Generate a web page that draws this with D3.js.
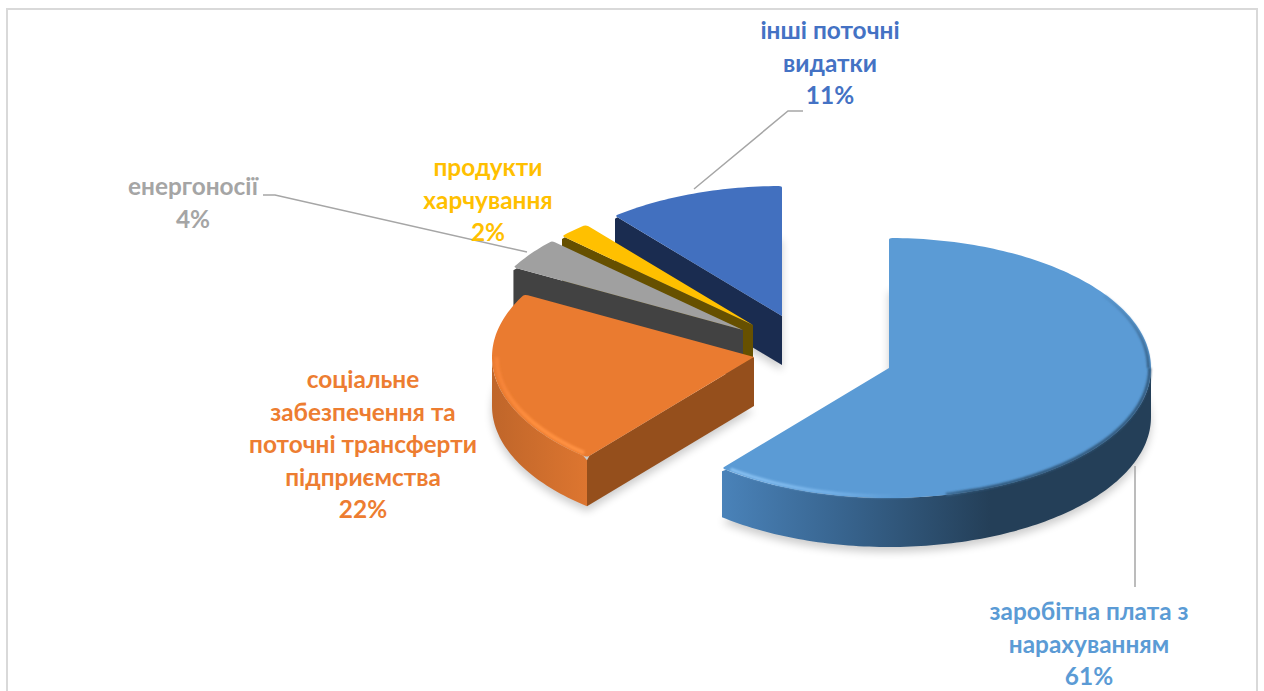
<!DOCTYPE html>
<html>
<head>
<meta charset="utf-8">
<script src="https://cdn.jsdelivr.net/npm/d3@7"></script>
<style>
  html, body { margin: 0; background: #fff; overflow: hidden; }
  text { font-family: "Lato", "Open Sans", sans-serif; font-weight: 700; font-size: 24.4px; }
</style>
</head>
<body>
<div id="chart"></div>
<script>
// Chart values
const categories = ["заробітна плата з нарахуванням", "соціальне забезпечення та поточні трансферти підприємства", "енергоносії", "продукти харчування", "інші поточні видатки"];
const shares = [61, 22, 4, 2, 11];
const labelLines = [
  ["заробітна плата з", "нарахуванням"],
  ["соціальне", "забезпечення та", "поточні трансферти", "підприємства"],
  ["енергоносії"],
  ["продукти", "харчування"],
  ["інші поточні", "видатки"]
];

// Colours per slice
const topColors = ["#5b9bd5", "#ea7b30", "#a0a0a0", "#ffc000", "#4270bf"];
const labelColors = ["#5b9bd5", "#ed7d31", "#a5a5a5", "#ffc000", "#4472c4"];
const wallColors = ["#25405a", "#954f1c", "#424242", "#665000", "#1a2c50"];

// Layout
const width = 1264, height = 691;
const radiusX = 262, radiusY = 130, depth = 49;
const sliceCenters = [[889, 368], [754, 357], [743, 330], [753, 325], [782, 316]];
const labelPos = [[1089, 620], [363, 388], [193, 195], [488, 176], [830, 39]];
const lineGap = 32.5;
const cornerTrim = 0.012; // angle taken off each outer corner of a top face
const cornerInset = 0.985; // radius where the rounding of a corner starts
const wallDrop = 3;       // walls start this far under the rounded corner
const leaders = [
  [[1135, 466], [1135, 587]],
  [],
  [[263, 195], [275, 195], [527, 252]],
  [],
  [[694, 189], [788, 111], [803, 111]]
];

const svg = d3.select("#chart").append("svg")
  .attr("width", width).attr("height", height);

const defs = svg.append("defs");
defs.append("filter").attr("id", "shadowBlur")
  .attr("x", "-20%").attr("y", "-20%").attr("width", "140%").attr("height", "140%")
  .append("feGaussianBlur").attr("stdDeviation", 4);
defs.append("filter").attr("id", "rimBlur")
  .attr("filterUnits", "userSpaceOnUse")
  .attr("x", 0).attr("y", 0).attr("width", width).attr("height", height)
  .append("feGaussianBlur").attr("stdDeviation", 1.2);

function addGradient(id, x1, y1, x2, y2, stops) {
  const g = defs.append("linearGradient").attr("id", id)
    .attr("gradientUnits", "userSpaceOnUse")
    .attr("x1", x1).attr("x2", x2).attr("y1", y1).attr("y2", y2);
  stops.forEach(s => g.append("stop").attr("offset", s[0]).attr("stop-color", s[1]));
}
addGradient("wall0", 720, 0, 990, 0, [[0, "#4a83ba"], [0.5, "#36618a"], [1, "#243f58"]]);
addGradient("wall1", 494, 0, 590, 0, [[0, "#c0662a"], [1, "#de7630"]]);
addGradient("rimLight0", 720, 0, 900, 0, [[0, "#8fc6f5"], [0.6, "#78b4ea"], [1, "#5b9bd5"]]);
addGradient("rimLight1", 494, 0, 590, 0, [[0, "#f48238"], [0.4, "#ff8f3e"], [1, "#ff9345"]]);
addGradient("rimDarkLow", 890, 0, 970, 0, [[0, "#5b9bd5"], [1, "#2f5577"]]);
addGradient("rimDarkHigh", 0, 285, 0, 368, [[0, "#5b9bd5"], [1, "#2f5577"]]);

const pie = d3.pie().sort(null).value(d => d);
const arcs = pie(shares);

const xScale = d3.scaleLinear().domain([-1, 1]).range([-radiusX, radiusX]);
const yScale = d3.scaleLinear().domain([-1, 1]).range([radiusY, -radiusY]);
const line = d3.line();

// Point on the rim of slice i, angle clockwise from the top, dz pushed down
function rimPoint(i, angle, dz, r) {
  const c = sliceCenters[i];
  const k = r === undefined ? 1 : r;
  return [c[0] + xScale(Math.sin(angle) * k), c[1] + yScale(Math.cos(angle) * k) + dz];
}

function rimPoints(i, a0, a1, dz, r) {
  const n = Math.max(2, Math.ceil((a1 - a0) / 0.02));
  return d3.range(n + 1).map(j => rimPoint(i, a0 + (a1 - a0) * j / n, dz, r));
}

function facePath(i, d, dz) {
  const c = sliceCenters[i];
  return line([[c[0], c[1] + dz]].concat(rimPoints(i, d.startAngle, d.endAngle, dz))) + "Z";
}

// Top face with the two outer corners rounded off
function roundedFacePath(i, d) {
  const c = sliceCenters[i];
  const a0 = d.startAngle, a1 = d.endAngle;
  const p = d3.path();
  p.moveTo(c[0], c[1]);
  const s0 = rimPoint(i, a0, 0, cornerInset), s1 = rimPoint(i, a0, 0);
  const e0 = rimPoint(i, a1, 0), e1 = rimPoint(i, a1, 0, cornerInset);
  const rim = rimPoints(i, a0 + cornerTrim, a1 - cornerTrim, 0);
  p.lineTo(s0[0], s0[1]);
  p.quadraticCurveTo(s1[0], s1[1], rim[0][0], rim[0][1]);
  rim.slice(1).forEach(q => p.lineTo(q[0], q[1]));
  p.quadraticCurveTo(e0[0], e0[1], e1[0], e1[1]);
  p.closePath();
  return p.toString();
}

function wallPath(i, angle) {
  const c = sliceCenters[i];
  const edge = rimPoint(i, angle, 0, cornerInset);
  const top = rimPoint(i, angle, wallDrop);
  const low = rimPoint(i, angle, depth);
  return line([[c[0], c[1]], edge, top, low, [c[0], c[1] + depth]]) + "Z";
}

function rimStroke(g, i, a0, a1, r, stroke, w) {
  g.append("path")
    .attr("d", line(rimPoints(i, a0, a1, 0, r)))
    .attr("fill", "none")
    .attr("stroke", stroke)
    .attr("stroke-width", w)
    .attr("filter", "url(#rimBlur)");
}

// Soft shadow under all the slices
svg.append("g").attr("filter", "url(#shadowBlur)").attr("opacity", 0.2)
  .selectAll("path").data(arcs).enter().append("path")
  .attr("d", (d, i) => facePath(i, d, depth + 5))
  .attr("fill", "#000");

// Draw from back to front
const drawOrder = [4, 3, 2, 0, 1];
drawOrder.forEach(i => {
  const d = arcs[i];
  const g = svg.append("g");

  // radial wall, only when it faces the viewer
  if (Math.sin(d.startAngle) < 0) {
    g.append("path").attr("d", wallPath(i, d.startAngle)).attr("fill", wallColors[i]);
  }

  // outer wall, the front half of the rim only
  const a0 = Math.max(d.startAngle, Math.PI / 2);
  const a1 = Math.min(d.endAngle, Math.PI * 1.5);
  if (a1 > a0) {
    const pts = rimPoints(i, a0, a1, 0);
    // keep the wall out of the rounded corners of the top face
    if (a0 === d.startAngle) pts[0] = rimPoint(i, a0, wallDrop);
    if (a1 === d.endAngle) pts[pts.length - 1] = rimPoint(i, a1, wallDrop);
    const outline = pts.concat(rimPoints(i, a0, a1, depth).reverse());
    g.append("path").attr("d", line(outline) + "Z").attr("fill", `url(#wall${i})`);
  }

  g.append("path").attr("d", roundedFacePath(i, d)).attr("fill", topColors[i]);

  // bevel along the front edge of the two big slices
  if (i === 0) {
    rimStroke(g, i, Math.PI * 0.31, Math.PI / 2, 0.99, "url(#rimDarkHigh)", 2.5);
    rimStroke(g, i, Math.PI / 2, Math.PI * 0.93, 0.995, "url(#rimDarkLow)", 3);
    rimStroke(g, i, Math.PI * 0.97, d.endAngle - 0.03, 0.985, "url(#rimLight0)", 3);
  }
  if (i === 1) {
    rimStroke(g, i, d.startAngle + 0.03, Math.PI * 1.5, 0.982, "url(#rimLight1)", 4);
  }
});

// Leader lines
svg.append("g").selectAll("path").data(leaders.filter(l => l.length)).enter().append("path")
  .attr("d", d => line(d))
  .attr("fill", "none")
  .attr("stroke", "#a6a6a6")
  .attr("stroke-width", 1.5);

// Labels
categories.forEach((name, i) => {
  const text = svg.append("text")
    .attr("text-anchor", "middle")
    .attr("fill", labelColors[i]);
  labelLines[i].concat([shares[i] + "%"]).forEach((t, j) => {
    text.append("tspan")
      .attr("x", labelPos[i][0])
      .attr("y", labelPos[i][1] + j * lineGap)
      .text(t);
  });
});

// Chart frame, runs off the bottom of the picture
svg.append("rect")
  .attr("x", 7).attr("y", 9).attr("width", 1250).attr("height", 720)
  .attr("fill", "none").attr("stroke", "#d9d9d9").attr("stroke-width", 2);
</script>
</body>
</html>
